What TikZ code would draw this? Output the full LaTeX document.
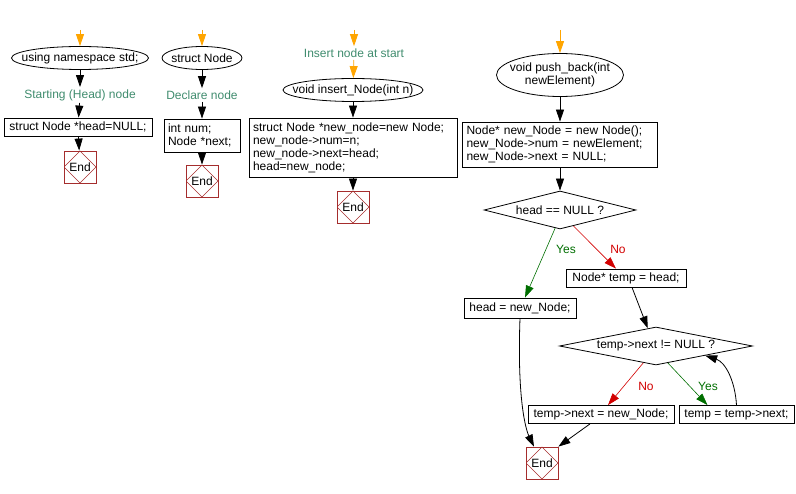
\documentclass[tikz,border=0pt]{standalone}
\usepackage{fontspec}
\setmainfont{Liberation Sans}
\usepackage{tikz}
\usetikzlibrary{arrows.meta}
\usetikzlibrary{shapes.geometric}

\definecolor{NoteGreen}{RGB}{64,140,110}
\definecolor{YesGreen}{RGB}{0,110,0}
\definecolor{NoRed}{RGB}{210,0,0}
\definecolor{EndRed}{RGB}{165,45,45}
\definecolor{StartOrange}{RGB}{255,165,0}

\newcommand{\overhang}[1]{\makebox[0pt]{#1}}

\begin{document}
\begin{tikzpicture}[x = 1pt, y = -1pt, line width = 0.8pt,
    font = \fontsize{12}{13}\selectfont,
    term/.style = {draw, ellipse, inner sep = 0pt},
    proc/.style = {draw, rectangle, inner xsep = 4pt, inner ysep = 3pt, minimum height = 18pt},
    cond/.style = {draw, diamond, aspect = 5, inner sep = 0pt},
    note/.style = {NoteGreen, inner sep = 2pt},
    endbox/.style = {draw = EndRed, rectangle, minimum size = 32pt, inner sep = 0pt,
        path picture = {\draw [EndRed, line width = 0.6pt] (path picture bounding box.north) -- (path picture bounding box.east) -- (path picture bounding box.south) -- (path picture bounding box.west) -- cycle;}},
    arr/.style = {-{Triangle[width = 8pt, length = 12pt]}},
    thin arr/.style = {line width = 0.6pt, -{Triangle[width = 8pt, length = 12pt]}}]
    \useasboundingbox (0, 0) rectangle (796, 494);
    \coordinate (top1) at (80, 30);
    \node [term, minimum width = 137pt, minimum height = 23pt] (nsp) at (80, 58) {\overhang{using namespace std;}};
    \node [note] (c1) at (80, 95) {Starting (Head) node};
    \node [proc, minimum width = 148pt] (head) at (78, 127) {struct Node *head=NULL;};
    \node [endbox] (e1) at (80, 167) {End};
    \draw [StartOrange, arr] (top1) -- (nsp);
    \draw [arr] (nsp) -- (c1);
    \draw [arr] (c1) -- (head);
    \draw [arr] (head) -- (e1);
    \coordinate (top2) at (202, 30);
    \node [term, minimum width = 80pt, minimum height = 23pt] (snode) at (202, 58) {\overhang{struct Node}};
    \node [note] (c2) at (202, 95) {Declare node};
    \node [proc, text width = 68pt, align = left, minimum height = 33pt] (decl) at (202, 135.5) {int num;\\Node *next;};
    \node [endbox] (e2) at (202, 181) {End};
    \draw [StartOrange, arr] (top2) -- (snode);
    \draw [arr] (snode) -- (c2);
    \draw [arr] (c2) -- (decl);
    \draw [arr] (decl) -- (e2);
    \coordinate (top3) at (354, 30);
    \node [note] (c3) at (354, 53) {Insert node at start};
    \node [term, minimum width = 140pt, minimum height = 23pt] (ins) at (353, 90) {\overhang{void insert\_Node(int n)}};
    \node [proc, text width = 200pt, align = left, minimum height = 59pt] (newn) at (353, 147.5) {struct Node *new\_node=new Node;\\new\_node->num=n;\\new\_node->next=head;\\head=new\_node;};
    \node [endbox] (e3) at (353, 207) {End};
    \draw [StartOrange, arr] (top3) -- (c3);
    \draw [StartOrange, arr] (c3) -- (ins);
    \draw [arr] (ins) -- (newn);
    \draw [arr] (newn) -- (e3);
    \coordinate (top4) at (560, 30);
    \node [term, minimum width = 127pt, minimum height = 43pt] (pb) at (560, 75) {\overhang{\begin{tabular}{@{}c@{}}void push\_back(int\\newElement)\end{tabular}}};
    \node [proc, text width = 187pt, align = left, minimum height = 45pt] (newN) at (560, 144.5) {Node* new\_Node = new Node();\\new\_Node->num = newElement;\\new\_Node->next = NULL;};
    \node [cond, minimum width = 152pt, minimum height = 38pt] (d1) at (560, 210) {head == NULL ?};
    \node [proc, minimum width = 112pt, minimum height = 20pt] (hn) at (520, 308) {head = new\_Node;};
    \node [proc, minimum width = 120pt] (tmp) at (626, 278) {Node* temp = head;};
    \node [cond, minimum width = 193pt, minimum height = 38pt] (d2) at (656, 346) {temp->next != NULL ?};
    \node [proc, minimum width = 146pt] (tn) at (601, 414.5) {temp->next = new\_Node;};
    \node [proc, minimum width = 115pt] (tt) at (736.5, 414.5) {temp = temp->next;};
    \node [endbox] (e4) at (542, 463) {End};
    \node [YesGreen] (yes1) at (566, 249) {Yes};
    \node [NoRed] (no1) at (618, 249) {No};
    \node [NoRed] (no2) at (646, 386) {No};
    \node [YesGreen] (yes2) at (708, 386) {Yes};
    \draw [StartOrange, arr] (top4) -- (pb);
    \draw [arr] (pb) -- (newN);
    \draw [arr] (newN) -- (d1);
    \draw [YesGreen, thin arr] (d1.-105) -- ([xshift = 5pt]hn.north);
    \draw [NoRed, thin arr] (d1.-50) -- ([xshift = -10pt]tmp.north);
    \draw [arr] ([xshift = 6pt]tmp.south) -- (d2.115);
    \draw [NoRed, thin arr] (d2.-127) -- ([xshift = 7pt]tn.north);
    \draw [YesGreen, thin arr] (d2.-55) -- ([xshift = -29pt]tt.north);
    \draw [arr] (tt.north) .. controls (735, 380) and (725, 362) .. (d2.-11);
    \draw [arr] (hn.south) .. controls (517, 400) and (526, 430) .. ([xshift = -8pt]e4.north);
    \draw [arr] ([xshift = -11pt]tn.south) -- (e4.north east);
\end{tikzpicture}
\end{document}
